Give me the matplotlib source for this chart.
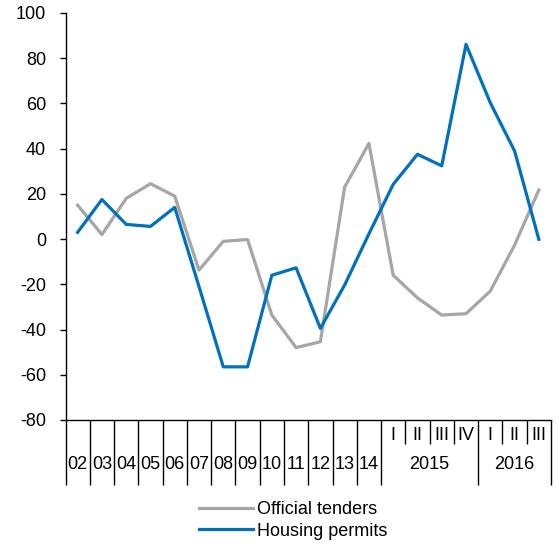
import matplotlib.pyplot as plt

plt.rcParams['font.family'] = ['Liberation Sans', 'DejaVu Sans']
plt.rcParams['axes.unicode_minus'] = False

# categories: years 2002-2014, then quarters of 2015 and 2016
year_labels = ['02', '03', '04', '05', '06', '07', '08', '09', '10', '11', '12', '13', '14']
quarter_labels = ['I', 'II', 'III', 'IV', 'I', 'II', 'III']
group_labels = ['2015', '2016']

official_tenders = [15, 2, 18, 24.5, 19, -13.7, -1, -0.2, -33.6, -48, -45.4, 23, 42.3,
                    -16, -26, -33.6, -33, -23, -2.7, 21.7]
housing_permits = [3, 17.5, 6.5, 5.6, 14, -21, -56.5, -56.5, -16, -12.7, -39.5, -20.3, 2.3,
                   24.2, 37.5, 32.4, 86.1, 60.3, 39, -0.1]

n = len(official_tenders)
xs = [i + 0.5 for i in range(n)]
fs = 13

fig = plt.figure(figsize=(5.58, 5.45), dpi=100)
ax = fig.add_axes([0.1174, 0.2294, 0.870, 0.7468])

ax.plot(xs, official_tenders, color='#A6A6A6', lw=2.3, label='Official tenders')
ax.plot(xs, housing_permits, color='#0070C0', lw=2.3, label='Housing permits')

ax.set_xlim(0, n)
ax.set_ylim(-80, 100)
ax.set_yticks(range(-80, 101, 20))
ax.tick_params(axis='y', direction='out', length=4.5, width=1, pad=9.5, labelsize=fs)

for s in ['top', 'right']:
    ax.spines[s].set_visible(False)
for s in ['left', 'bottom']:
    ax.spines[s].set_linewidth(1)

# x axis: long separators between years/groups, short ones between quarters
n_years = len(year_labels)
long_seps = list(range(0, n_years + 1)) + [n_years + 4, n]
short_seps = [n_years + 1, n_years + 2, n_years + 3, n_years + 5, n_years + 6]
ax.set_xticks(long_seps)
ax.set_xticks(short_seps, minor=True)
ax.tick_params(axis='x', which='major', direction='out', length=47, width=1, labelbottom=False)
ax.tick_params(axis='x', which='minor', direction='out', length=17.5, width=1, labelbottom=False)

tr = ax.get_xaxis_transform()
y_quarter = -16 / 407
y_year = -45 / 407
for i, lab in enumerate(year_labels):
    ax.text(i + 0.5, y_year, lab, transform=tr, ha='center', va='center', fontsize=fs)
for j, lab in enumerate(quarter_labels):
    ax.text(n_years + j + 0.5, y_quarter, lab, transform=tr, ha='center', va='center', fontsize=fs)
ax.text(n_years + 2, y_year, group_labels[0], transform=tr, ha='center', va='center', fontsize=fs)
ax.text(n_years + 5.5, y_year, group_labels[1], transform=tr, ha='center', va='center', fontsize=fs)

fig.legend(loc='upper left', bbox_to_anchor=(206 / 558 - 0.012, 1 - 501 / 545), frameon=False,
           handlelength=3.0, handletextpad=0.2, labelspacing=0.25, fontsize=fs,
           borderpad=0, borderaxespad=0)

fig.savefig('out.png', dpi=100)
